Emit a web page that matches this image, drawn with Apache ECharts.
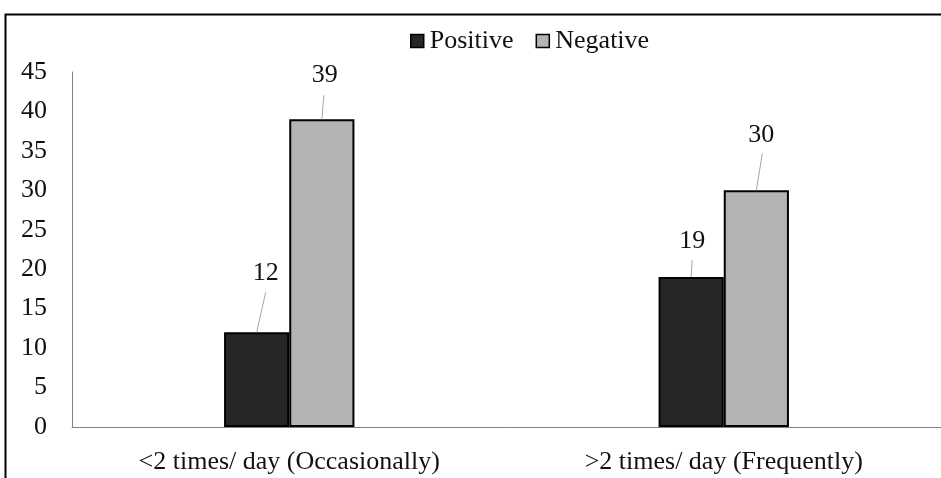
<!DOCTYPE html>
<html>
<head>
<meta charset="utf-8">
<script src="https://cdn.jsdelivr.net/npm/echarts@6/dist/echarts.min.js"></script>
<style>
  html, body { margin: 0; padding: 0; background: #fff; }
  #chart { width: 941px; height: 478px; }
</style>
</head>
<body>
<div id="chart"></div>
<script>
// Frequency categories and counts per result
const categories = ['<2 times/ day (Occasionally)', '>2 times/ day (Frequently)'];
const positiveValues = [12, 19];
const negativeValues = [39, 30];
const yTicks = { min: 0, max: 45, interval: 5 };

// Where each value label sits relative to the top of its bar ([dx, dy] of the label centre)
// and where its leader line stops ([dx, dy] of the line end).
const positiveLabelShift = [[9, -59], [1, -36]];
const positiveLineEnd = [[9, -40], [1, -17]];
const negativeLabelShift = [[3, -44], [5, -55]];
const negativeLineEnd = [[2, -24], [6, -37]];

const FONT = '"Liberation Serif", "Times New Roman", serif';
const FONT_SIZE = 26;
const TEXT_COLOR = '#111';
const BAR_WIDTH_RATIO = 0.15;

const chart = echarts.init(document.getElementById('chart'), null, { renderer: 'canvas' });

function barSeries(name, values, color) {
  return {
    name: name,
    type: 'bar',
    data: values,
    barWidth: (BAR_WIDTH_RATIO * 100) + '%',
    barGap: '0%',
    itemStyle: { color: color, borderColor: '#000', borderWidth: 2 },
    emphasis: { disabled: true },
    animation: false
  };
}

// Value labels with slanted leader lines running to the centre of each bar top
function valueLabelSeries(values, side, labelShift, lineEnd) {
  return {
    type: 'custom',
    silent: true,
    z: 5,
    data: values.map((v, i) => [i, v]),
    encode: { x: 0, y: 1 },
    renderItem: function (params, api) {
      const i = params.dataIndex;
      const top = api.coord([api.value(0), api.value(1)]);
      const bw = api.size([1, 0])[0] * BAR_WIDTH_RATIO;
      const x = top[0] + side * bw / 2;
      const y = top[1];
      const ls = labelShift[i];
      const le = lineEnd[i];
      return {
        type: 'group',
        children: [
          {
            type: 'line',
            shape: { x1: x, y1: y, x2: x + le[0], y2: y + le[1] },
            style: { stroke: '#a6a6a6', lineWidth: 1 }
          },
          {
            type: 'text',
            style: {
              text: String(api.value(1)),
              x: x + ls[0],
              y: y + ls[1],
              align: 'center',
              verticalAlign: 'middle',
              fontFamily: FONT,
              fontSize: FONT_SIZE,
              fill: TEXT_COLOR
            }
          }
        ]
      };
    },
    animation: false
  };
}

chart.setOption({
  animation: false,
  graphic: [{
    type: 'rect',
    left: 3,
    top: 12,
    shape: { width: 1200, height: 1200 },
    style: { fill: 'none', stroke: '#000', lineWidth: 2 },
    silent: true,
    z: 100
  }],
  legend: {
    top: 23,
    left: 405,
    itemWidth: 13,
    itemHeight: 13,
    itemGap: 22,
    icon: 'rect',
    textStyle: { fontFamily: FONT, fontSize: FONT_SIZE, color: TEXT_COLOR, padding: [0, 0, 0, 1] },
    data: [
      { name: 'Positive', itemStyle: { color: '#262626', borderColor: '#000', borderWidth: 1.5 } },
      { name: 'Negative', itemStyle: { color: '#b3b3b3', borderColor: '#000', borderWidth: 1.5 } }
    ]
  },
  grid: { left: 72, top: 72, bottom: 51, right: -7 },
  xAxis: {
    type: 'category',
    data: categories,
    axisLine: { lineStyle: { color: '#808080', width: 1 } },
    axisTick: { show: false },
    axisLabel: { fontFamily: FONT, fontSize: FONT_SIZE, color: TEXT_COLOR, margin: 22 }
  },
  yAxis: {
    type: 'value',
    min: yTicks.min,
    max: yTicks.max,
    interval: yTicks.interval,
    splitLine: { show: false },
    axisLine: { show: true, lineStyle: { color: '#808080', width: 1 } },
    axisTick: { show: false },
    axisLabel: { fontFamily: FONT, fontSize: FONT_SIZE, color: TEXT_COLOR, margin: 25 }
  },
  series: [
    barSeries('Positive', positiveValues, '#262626'),
    barSeries('Negative', negativeValues, '#b3b3b3'),
    valueLabelSeries(positiveValues, -1, positiveLabelShift, positiveLineEnd),
    valueLabelSeries(negativeValues, 1, negativeLabelShift, negativeLineEnd)
  ]
});
</script>
</body>
</html>
